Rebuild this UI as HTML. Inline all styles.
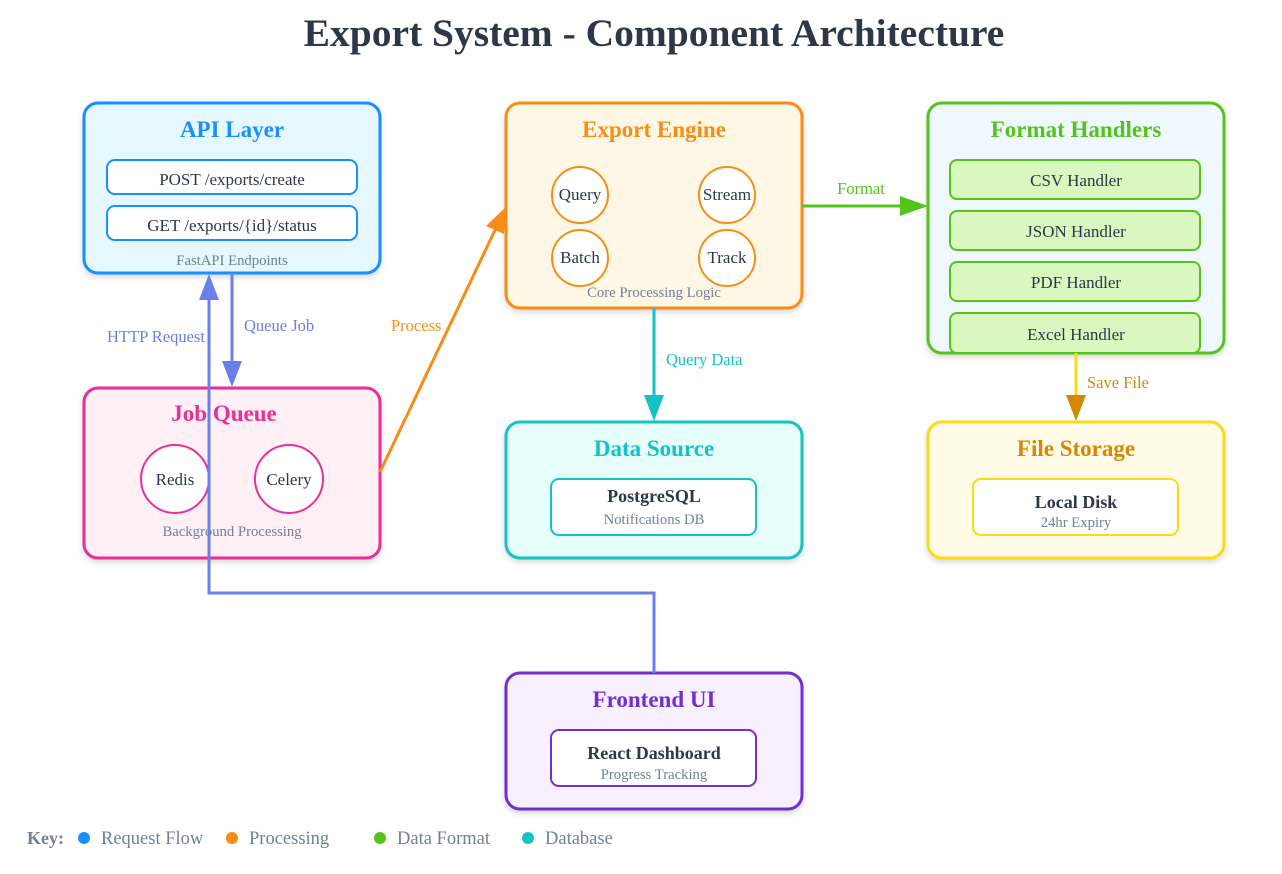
<!DOCTYPE html>
<html><head><meta charset="utf-8"><style>
html,body{margin:0;padding:0;background:#fff;}
svg{display:block;font-family:"Liberation Serif",serif;}
</style></head><body>
<svg width="1282" height="874" viewBox="0 0 1282 874" xmlns="http://www.w3.org/2000/svg">
<defs>
<filter id="sh" x="-10%" y="-10%" width="120%" height="130%"><feDropShadow dx="0" dy="3" stdDeviation="3" flood-color="#000" flood-opacity="0.15"/></filter>
</defs>
<text x="654" y="46" text-anchor="middle" font-size="39.5" font-weight="bold" fill="#2d3748">Export System - Component Architecture</text>

<!-- API Layer -->
<rect x="84" y="103" width="296" height="170" rx="14" fill="#e6f7ff" stroke="#1890ff" stroke-width="3" filter="url(#sh)"/>
<text x="232" y="137" text-anchor="middle" font-size="23" font-weight="bold" fill="#1890ff">API Layer</text>
<rect x="107" y="160" width="250" height="34" rx="8" fill="#fff" stroke="#1890ff" stroke-width="2"/>
<text x="232" y="185" text-anchor="middle" font-size="17" fill="#2d3748">POST /exports/create</text>
<rect x="107" y="206" width="250" height="34" rx="8" fill="#fff" stroke="#1890ff" stroke-width="2"/>
<text x="232" y="231" text-anchor="middle" font-size="17" fill="#2d3748">GET /exports/{id}/status</text>
<text x="232" y="265" text-anchor="middle" font-size="14.7" fill="#718096">FastAPI Endpoints</text>

<!-- Export Engine -->
<rect x="506" y="103" width="296" height="205" rx="14" fill="#fff7e6" stroke="#fa8c16" stroke-width="3" filter="url(#sh)"/>
<text x="654" y="137" text-anchor="middle" font-size="23" font-weight="bold" fill="#fa8c16">Export Engine</text>
<g fill="#fff" stroke="#fa8c16" stroke-width="2">
<circle cx="580" cy="195" r="28"/><circle cx="727" cy="195" r="28"/><circle cx="580" cy="258" r="28"/><circle cx="727" cy="258" r="28"/></g>
<g font-size="17" fill="#2d3748" text-anchor="middle">
<text x="580" y="200">Query</text><text x="727" y="200">Stream</text><text x="580" y="263">Batch</text><text x="727" y="263">Track</text></g>
<text x="654" y="297" text-anchor="middle" font-size="14.7" fill="#718096">Core Processing Logic</text>

<!-- Format Handlers -->
<rect x="928" y="103" width="296" height="250" rx="14" fill="#f0f8ff" stroke="#52c41a" stroke-width="3" filter="url(#sh)"/>
<text x="1076" y="137" text-anchor="middle" font-size="23" font-weight="bold" fill="#52c41a">Format Handlers</text>
<g fill="#d9f7be" stroke="#52c41a" stroke-width="2">
<rect x="950" y="160" width="250" height="39" rx="7"/><rect x="950" y="211" width="250" height="39" rx="7"/><rect x="950" y="262" width="250" height="39" rx="7"/><rect x="950" y="313" width="250" height="40" rx="7"/></g>
<g font-size="17" fill="#2d3748" text-anchor="middle">
<text x="1076" y="186">CSV Handler</text><text x="1076" y="237">JSON Handler</text><text x="1076" y="288">PDF Handler</text><text x="1076" y="340">Excel Handler</text></g>

<!-- Job Queue -->
<rect x="84" y="388" width="296" height="170" rx="14" fill="#fff0f6" stroke="#eb2f96" stroke-width="3" filter="url(#sh)"/>
<text x="224" y="421" text-anchor="middle" font-size="23" font-weight="bold" fill="#eb2f96">Job Queue</text>
<circle cx="175" cy="479" r="34" fill="#fff" stroke="#eb2f96" stroke-width="2"/>
<circle cx="289" cy="479" r="34" fill="#fff" stroke="#eb2f96" stroke-width="2"/>
<text x="175" y="485" text-anchor="middle" font-size="17" fill="#2d3748">Redis</text>
<text x="289" y="485" text-anchor="middle" font-size="17" fill="#2d3748">Celery</text>
<text x="232" y="536" text-anchor="middle" font-size="14.7" fill="#718096">Background Processing</text>

<!-- Data Source -->
<rect x="506" y="422" width="296" height="136" rx="14" fill="#e6fffb" stroke="#13c2c2" stroke-width="3" filter="url(#sh)"/>
<text x="654" y="456" text-anchor="middle" font-size="23" font-weight="bold" fill="#13c2c2">Data Source</text>
<rect x="551" y="479" width="205" height="56" rx="8" fill="#fff" stroke="#13c2c2" stroke-width="2"/>
<text x="654" y="502" text-anchor="middle" font-size="18" font-weight="bold" fill="#2d3748">PostgreSQL</text>
<text x="654" y="524" text-anchor="middle" font-size="14.7" fill="#718096">Notifications DB</text>

<!-- File Storage -->
<rect x="928" y="422" width="296" height="136" rx="14" fill="#fffbe6" stroke="#fadb14" stroke-width="3" filter="url(#sh)"/>
<text x="1076" y="456" text-anchor="middle" font-size="23" font-weight="bold" fill="#d48806">File Storage</text>
<rect x="973" y="479" width="205" height="56" rx="8" fill="#fff" stroke="#fadb14" stroke-width="2"/>
<text x="1076" y="508" text-anchor="middle" font-size="18" font-weight="bold" fill="#2d3748">Local Disk</text>
<text x="1076" y="527" text-anchor="middle" font-size="14.7" fill="#718096">24hr Expiry</text>

<!-- Frontend -->
<rect x="506" y="673" width="296" height="136" rx="14" fill="#f9f0ff" stroke="#722ed1" stroke-width="3" filter="url(#sh)"/>
<text x="654" y="707" text-anchor="middle" font-size="23" font-weight="bold" fill="#722ed1">Frontend UI</text>
<rect x="551" y="730" width="205" height="56" rx="8" fill="#fff" stroke="#722ed1" stroke-width="2"/>
<text x="654" y="759" text-anchor="middle" font-size="18" font-weight="bold" fill="#2d3748">React Dashboard</text>
<text x="654" y="779" text-anchor="middle" font-size="14.7" fill="#718096">Progress Tracking</text>

<!-- connectors -->
<path d="M654,673 V593 H209 V298" fill="none" stroke="#6b7fe8" stroke-width="3"/>
<path d="M199,300 L209,274 L219,300 z" fill="#6b7fe8"/>
<text x="107" y="342" font-size="16.5" fill="#6b7fe8">HTTP Request</text>

<path d="M232,273 V363" stroke="#6b7fe8" stroke-width="3"/>
<path d="M222,361 L232,387 L242,361 z" fill="#6b7fe8"/>
<text x="244" y="331" font-size="16.5" fill="#6b7fe8">Queue Job</text>

<path d="M380,472 L496,228" stroke="#fa8c16" stroke-width="3"/>
<path d="M486,226 L506,207 L504,234 z" fill="#fa8c16"/>
<text x="391" y="331" font-size="16.5" fill="#fa8c16">Process</text>

<path d="M802,206 L902,206" stroke="#52c41a" stroke-width="3"/>
<path d="M900,196 L928,206 L900,216 z" fill="#52c41a"/>
<text x="861" y="194" text-anchor="middle" font-size="16.5" fill="#52c41a">Format</text>

<path d="M654,308 V397" stroke="#13c2c2" stroke-width="3"/>
<path d="M644,395 L654,421 L664,395 z" fill="#13c2c2"/>
<text x="666" y="365" font-size="16.5" fill="#13c2c2">Query Data</text>

<path d="M1076,353 V397" stroke="#fadb14" stroke-width="3"/>
<path d="M1066,395 L1076,421 L1086,395 z" fill="#d48806"/>
<text x="1087" y="388" font-size="16.5" fill="#d48806">Save File</text>

<!-- key -->
<text x="27" y="844" font-size="18" font-weight="bold" fill="#718096">Key:</text>
<circle cx="84" cy="838" r="6" fill="#1890ff"/><text x="101" y="844" font-size="18.5" fill="#718096">Request Flow</text>
<circle cx="232" cy="838" r="6" fill="#fa8c16"/><text x="249" y="844" font-size="18.5" fill="#718096">Processing</text>
<circle cx="380" cy="838" r="6" fill="#52c41a"/><text x="397" y="844" font-size="18.5" fill="#718096">Data Format</text>
<circle cx="528" cy="838" r="6" fill="#13c2c2"/><text x="545" y="844" font-size="18.5" fill="#718096">Database</text>
</svg>
</body></html>
